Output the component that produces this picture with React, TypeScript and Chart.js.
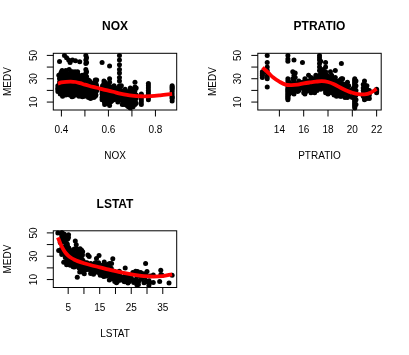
import React, { useEffect, useRef } from "react";
import { Chart, registerables } from "chart.js";
Chart.register(...registerables);

// ---------- DATA ----------
// NOX panel: each entry = [NOX value, MEDV values observed at that NOX]
const noxColumns: [number, number[]][] = [
  [0.385, [22, 24, 21, 19]],
  [0.389, [33, 24, 21.5]],
  [0.392, [44.8, 30, 27, 25]],
  [0.394, [32, 24, 19.5]],
  [0.395, [17, 20, 23, 27, 30]],
  [0.398, [26, 23, 21, 28, 35]],
  [0.4, [20, 23, 26, 31, 29]],
  [0.401, [36, 31, 23, 28]],
  [0.403, [33, 29, 24, 37, 32]],
  [0.404, [25, 30, 19, 22, 32, 34]],
  [0.405, [15, 18, 21, 27, 35]],
  [0.409, [24, 22, 20, 31, 28]],
  [0.41, [33, 25, 35, 29]],
  [0.411, [27, 32, 30, 21]],
  [0.413, [50, 24, 28, 22, 34]],
  [0.415, [20, 23, 33, 36, 27, 18]],
  [0.416, [24, 26, 21, 30]],
  [0.419, [16, 19, 25, 29, 32, 37]],
  [0.422, [48, 30, 26, 22, 35, 19]],
  [0.424, [18, 23, 27, 31, 34]],
  [0.426, [17, 22, 25, 28]],
  [0.428, [20, 24, 26, 21, 30, 19]],
  [0.429, [22, 29, 27, 23]],
  [0.431, [46, 31, 24, 20]],
  [0.433, [38, 27, 33, 24, 21, 18]],
  [0.435, [21, 24, 28, 26, 16]],
  [0.437, [44, 34, 22, 20, 25]],
  [0.439, [21, 19, 24, 30, 33]],
  [0.44, [16, 20, 26, 28, 32, 36]],
  [0.442, [23, 19, 17, 29, 35, 30]],
  [0.445, [21, 23, 25, 18, 31, 14.5]],
  [0.447, [46, 36, 22, 28, 26, 24]],
  [0.448, [22, 20, 17, 25, 30]],
  [0.451, [15, 19, 23, 27, 35]],
  [0.453, [21, 26, 29, 31, 33, 24, 18]],
  [0.456, [17, 20, 26, 32]],
  [0.458, [36, 33, 28, 23, 30, 21]],
  [0.46, [45.5, 22, 25, 19]],
  [0.464, [22, 24, 27, 30, 20]],
  [0.466, [16, 19, 25, 31, 35]],
  [0.469, [21, 34, 36, 28, 23, 30]],
  [0.472, [18, 22, 25, 33, 29]],
  [0.475, [15, 19, 23, 26, 31]],
  [0.478, [44.5, 28, 24, 20]],
  [0.483, [17, 21, 27, 30]],
  [0.488, [19, 22, 26, 30, 33, 25, 17]],
  [0.489, [18, 21, 24, 28, 31, 14.5]],
  [0.493, [16, 20, 23, 26, 29]],
  [0.496, [18, 21, 25, 28]],
  [0.499, [15, 19, 22, 24, 27, 31, 33]],
  [0.504, [50, 46, 43, 38, 35, 30, 28, 24]],
  [0.507, [48, 44, 36, 32, 26, 22, 19]],
  [0.51, [17, 21, 24, 27, 23]],
  [0.515, [14, 18, 21, 25, 29]],
  [0.52, [15, 18, 21, 23, 26, 28]],
  [0.524, [13, 16, 19, 22, 27, 21]],
  [0.527, [14, 17, 20, 24]],
  [0.532, [15, 18, 21, 24]],
  [0.535, [16, 19, 22, 26]],
  [0.538, [14, 17, 19, 21, 24, 20, 18, 15, 23]],
  [0.544, [29, 22, 18, 17, 15]],
  [0.547, [16, 21, 19, 26]],
  [0.55, [29, 24, 20]],
  [0.573, [44, 22, 19, 17, 14, 12]],
  [0.575, [24, 20, 16]],
  [0.581, [15, 20, 23, 26, 28, 18]],
  [0.583, [10, 14, 17, 20]],
  [0.584, [8, 12, 16, 19, 22]],
  [0.585, [12, 16, 20, 24, 27]],
  [0.59, [10, 13, 18, 22]],
  [0.597, [9, 13, 17, 21, 24]],
  [0.6, [9, 12, 19, 25]],
  [0.605, [41, 30, 27, 23, 20, 17, 15, 7]],
  [0.609, [10, 14, 17, 20]],
  [0.614, [11, 15, 19, 23]],
  [0.624, [12, 14, 16, 18, 20, 22, 24]],
  [0.631, [16, 19, 22]],
  [0.64, [10, 13, 17, 20]],
  [0.647, [50, 46, 42, 38, 35, 31, 28, 24, 22, 19, 17, 14]],
  [0.655, [12, 15, 18, 20, 24]],
  [0.659, [8, 11, 14, 17]],
  [0.668, [8, 11, 15, 18]],
  [0.671, [10, 13, 17, 21]],
  [0.679, [7, 9, 12, 14]],
  [0.685, [6, 9, 12, 16, 19]],
  [0.693, [5, 7, 9, 11, 13, 15, 17, 20, 22, 5.6, 7.5]],
  [0.7, [8, 11, 14, 16, 19, 21]],
  [0.705, [6, 10, 13, 18]],
  [0.713, [27, 23, 20, 17, 14, 12, 10, 8]],
  [0.718, [9, 13, 16, 22]],
  [0.74, [8, 10, 12, 14, 16, 17]],
  [0.77, [12, 14, 16, 18, 20, 22, 24, 26]],
  [0.871, [11, 13, 14, 15, 17, 19, 21, 22, 23, 24]],
];
const noxSmoothX = [0.385, 0.4, 0.42, 0.44, 0.46, 0.48, 0.5, 0.52, 0.55, 0.58, 0.6, 0.63, 0.65, 0.7, 0.74, 0.78, 0.82, 0.871];
const noxSmoothY = [25.8, 26.8, 27.4, 27.6, 27.2, 26.2, 24.9, 23.8, 22.3, 20.7, 19.8, 18.3, 17.3, 15.6, 15.0, 15.1, 15.8, 17.0];

// PTRATIO panel
const ptColumns: [number, number[]][] = [
  [12.6, [31, 33, 35, 36, 34]],
  [13.0, [50, 44, 40, 37, 35, 32, 30, 23]],
  [14.7, [50, 47, 45, 28, 26, 24, 22, 20, 18, 16, 14, 12, 30, 25, 21, 19, 17, 15, 13]],
  [14.8, [27, 24, 20, 17, 23]],
  [14.9, [22, 20, 26, 18]],
  [15.1, [30, 25, 21, 36]],
  [15.2, [46, 33, 28, 24, 19, 22, 27, 17]],
  [15.3, [35, 31, 24, 21, 26]],
  [15.5, [23, 19]],
  [15.6, [28, 24, 20, 22]],
  [15.9, [44, 27, 22, 24]],
  [16.0, [18, 21, 25]],
  [16.1, [24, 30, 26, 20, 17]],
  [16.2, [19, 22, 25, 28]],
  [16.4, [33, 28, 23, 20, 27]],
  [16.6, [29, 25, 21, 24, 31, 23, 18]],
  [16.8, [26, 24, 22, 19, 30]],
  [16.9, [18, 21, 24]],
  [17.0, [33, 30, 26, 22]],
  [17.1, [20, 24, 28, 32]],
  [17.3, [50, 48, 46, 43, 40, 37, 33, 30, 27, 24, 22]],
  [17.4, [45, 36, 31, 26, 23, 21, 28]],
  [17.5, [23, 26, 29, 33, 36]],
  [17.6, [30, 27, 25, 22, 38, 34]],
  [17.8, [44, 40, 36, 33, 30, 28, 26, 24, 22, 20, 18]],
  [17.9, [33, 29, 25, 22, 19]],
  [18.0, [26, 23, 21, 17, 30]],
  [18.1, [19, 22, 26, 29]],
  [18.2, [36, 32, 28, 25, 21]],
  [18.3, [33, 24, 20, 18]],
  [18.4, [30, 27, 22, 18]],
  [18.5, [23, 20, 16, 21]],
  [18.6, [37, 31, 25, 20, 17, 23]],
  [18.7, [28, 25, 22, 19, 15]],
  [18.8, [16, 19, 23, 26]],
  [18.9, [27, 24, 20, 17]],
  [19.0, [15, 18, 22, 29]],
  [19.1, [43, 30, 25, 21, 18, 15]],
  [19.2, [30, 26, 23, 20, 17, 19]],
  [19.4, [14, 18, 21, 25]],
  [19.6, [27, 24, 21, 17, 14]],
  [19.7, [24, 20, 18, 15]],
  [20.0, [14, 18, 21]],
  [20.1, [22, 19, 16]],
  [20.2, [30, 28, 26, 24, 22, 20, 18, 16, 14, 12, 10, 8, 6, 5, 7, 9, 11, 13, 15, 17, 19, 21, 23, 25, 27, 29]],
  [20.3, [8, 12, 16, 20, 24, 28]],
  [20.9, [25, 22, 20, 17, 15]],
  [21.0, [28, 25, 22, 20, 18, 16, 14, 12, 19]],
  [21.1, [23, 20, 18, 15]],
  [21.2, [24, 21, 19, 17, 14, 13]],
  [21.4, [13, 16, 20]],
  [22.0, [21, 19, 18, 20]],
];
const ptSmoothX = [12.6, 13, 13.5, 14, 14.5, 15, 15.5, 16, 16.5, 17, 17.5, 18, 18.5, 19, 19.5, 20, 20.5, 21, 21.5, 22];
const ptSmoothY = [39.5, 36, 31, 27.5, 25, 24.6, 25, 26, 26.8, 27.5, 27.9, 27.2, 25.3, 22.5, 20, 18, 16.8, 16.6, 18, 21.3];

// LSTAT panel: [LSTAT, MEDV]
const lstatPoints: [number, number][] = [
  [1.73, 50], [1.98, 34.9], [2.47, 41.7], [2.87, 36], [2.88, 50], [2.94, 33.4], [2.96, 50], [2.97, 47.8], [2.98, 31.5],
  [3.01, 46], [3.11, 44], [3.13, 37.6], [3.16, 50], [3.26, 42], [3.32, 33], [3.53, 46], [3.54, 42.8], [3.56, 37.3],
  [3.57, 43.8], [3.59, 24.8], [3.7, 48.5], [3.76, 45.4], [3.81, 48.8], [3.92, 46.7], [3.95, 44], [4.03, 34.7], [4.08, 29],
  [4.14, 44], [4.16, 33], [4.21, 38.7], [4.32, 30.8], [4.38, 29.1], [4.45, 40], [4.5, 22.8], [4.54, 32], [4.56, 35],
  [4.59, 36.1], [4.61, 31.2], [4.63, 41], [4.67, 23.5], [4.69, 30.5], [4.7, 27.5], [4.73, 39.8], [4.74, 29], [4.81, 35.4],
  [4.82, 37.9], [4.84, 26.6], [4.85, 44.8], [4.86, 33.4], [4.97, 36], [4.98, 24],
  [5.03, 31.1], [5.04, 37.2], [5.08, 46], [5.1, 25], [5.12, 48.5], [5.19, 37], [5.21, 28.7], [5.25, 31.7], [5.29, 28],
  [5.33, 36.2], [5.39, 34.9], [5.49, 24], [5.5, 27], [5.52, 22.8], [5.57, 29], [5.59, 32.7], [5.64, 23.9], [5.68, 22.2],
  [5.7, 28.7], [5.77, 31.6], [5.81, 25], [5.89, 26.6], [5.9, 28.2], [5.98, 22.9], [5.99, 24.5], [6.05, 29.6], [6.07, 24.2],
  [6.12, 25], [6.15, 23], [6.19, 33.2], [6.21, 25], [6.27, 23.6], [6.29, 24.6], [6.36, 23.1], [6.43, 24.7], [6.47, 33.4],
  [6.56, 21], [6.58, 35.2], [6.59, 25.2], [6.62, 34.6], [6.65, 23], [6.68, 32], [6.72, 35.1], [6.73, 22.5], [6.75, 23],
  [6.78, 24.4], [6.86, 23.3], [6.87, 23.1], [6.92, 36], [6.93, 20.8], [7.01, 36.2], [7.12, 27.5], [7.14, 23.2],
  [7.18, 24.4], [7.19, 29.1], [7.2, 24.8], [7.22, 29], [7.26, 43.1], [7.34, 28.4], [7.37, 23.3], [7.39, 24.5],
  [7.43, 24.1], [7.44, 25], [7.51, 22.9], [7.53, 28.2], [7.54, 23.4], [7.56, 39.8], [7.6, 30.1], [7.67, 26.5], [7.7, 24],
  [7.73, 24.7], [7.74, 23.7], [7.79, 36.2], [7.83, 25.3], [7.85, 32.2], [7.88, 11.9], [7.9, 21.6], [8.01, 21.5],
  [8.05, 33], [8.1, 22], [8.16, 22.7], [8.2, 21.9], [8.23, 22], [8.26, 25], [8.43, 23], [8.44, 22.9], [8.47, 19.9],
  [8.51, 23], [8.58, 23.9], [8.61, 30.3], [8.65, 16.5], [8.67, 26.4], [8.77, 21], [8.79, 36.5], [8.81, 33.4],
  [8.88, 22.6], [8.93, 28.4], [9.04, 23.6], [9.08, 20.6], [9.09, 19.8], [9.1, 20.3], [9.14, 21.7], [9.16, 24.3],
  [9.22, 19.6], [9.25, 20.9], [9.28, 35.1], [9.29, 18.7], [9.38, 21.2], [9.42, 27.5], [9.43, 20.5], [9.45, 25],
  [9.47, 25], [9.5, 16.5], [9.51, 24.8], [9.52, 19.6], [9.53, 31], [9.55, 21.2], [9.59, 33.8], [9.62, 19.6],
  [9.64, 19.5], [9.67, 22.4], [9.69, 20.5], [9.71, 26.2], [9.74, 19], [9.8, 19.5], [9.81, 25],
  [10.11, 15], [10.13, 18.6], [10.16, 22.8], [10.19, 20.9], [10.21, 19.3], [10.24, 19.4], [10.26, 18.2], [10.29, 18.8],
  [10.3, 19.3], [10.36, 23.1], [10.4, 18.8], [10.42, 20.3], [10.45, 18.5], [10.5, 22.5], [10.53, 22], [10.56, 24.3],
  [10.58, 21.2], [10.59, 20.6], [10.63, 18.6], [10.74, 23], [10.87, 22.6], [10.88, 20.9], [10.97, 24.4], [11.1, 23],
  [11.12, 21.4], [11.22, 22.2], [11.25, 31], [11.28, 22], [11.32, 21.7], [11.34, 21.4], [11.38, 18.9], [11.41, 20],
  [11.45, 20.6], [11.48, 23], [11.5, 22.6], [11.64, 20], [11.65, 20.5], [11.66, 29.8], [11.69, 20.2], [11.72, 21.6],
  [11.74, 18.7], [11.97, 21.4], [12.01, 21.8], [12.03, 20.8], [12.04, 19.1], [12.12, 15.3], [12.13, 19.6],
  [12.14, 23.8], [12.26, 19.6], [12.27, 19.8], [12.33, 20.1], [12.34, 21.2], [12.4, 20.1], [12.43, 19.6], [12.5, 17.6],
  [12.6, 23.2], [12.64, 19.1], [12.67, 22.4], [12.8, 18.4], [12.86, 22.5], [12.87, 19.6], [12.92, 21.2], [12.93, 20.1],
  [13.0, 21.7], [13.04, 14.5], [13.09, 17.4], [13.11, 21.4], [13.15, 18.7], [13.22, 21.7], [13.27, 19.1], [13.28, 19.6],
  [13.33, 16.2], [13.34, 20.6], [13.35, 20.1], [13.44, 19.3], [13.45, 18.8], [13.51, 23.3], [13.59, 24.5], [13.61, 19.3],
  [13.65, 20.8], [13.83, 19.6], [13.98, 28.1], [13.99, 19.4], [14.0, 21.9], [14.1, 18.8], [14.13, 19.9], [14.15, 20.1],
  [14.19, 19.9], [14.27, 20.8], [14.33, 21.4], [14.36, 23.2], [14.37, 20.3], [14.43, 17.4], [14.44, 20.6], [14.52, 16.1],
  [14.59, 17.1], [14.64, 16.8], [14.65, 17.7], [14.66, 24.4], [14.69, 20.5], [14.7, 17.6], [14.76, 20.1], [14.79, 30.7],
  [14.8, 18.9], [14.81, 21.4], [14.98, 19.6], [15.02, 18.2], [15.03, 18.4], [15.1, 17.5], [15.12, 17.7], [15.17, 13.8],
  [15.37, 20.4], [15.39, 19.1], [15.55, 15.2], [15.69, 18.1], [15.7, 14.2], [15.71, 21.3], [15.76, 21.7], [15.79, 19.4],
  [15.84, 20.2], [15.94, 19.5], [16.03, 22.4], [16.14, 13.1], [16.2, 19.4], [16.21, 17.2], [16.22, 14.2], [16.23, 22.5],
  [16.29, 19.8], [16.3, 19.4], [16.35, 12.7], [16.42, 16.4], [16.44, 25], [16.47, 19.5], [16.51, 19.4], [16.59, 18.4],
  [16.65, 15.2], [16.74, 16.8], [16.9, 21.3], [16.94, 18.4], [17.09, 18.3], [17.1, 18.8], [17.11, 15.1], [17.12, 13.1],
  [17.15, 18.7], [17.16, 19.5], [17.19, 16.2], [17.21, 18.8], [17.27, 21.5], [17.28, 18.5], [17.31, 15.6], [17.44, 21.2],
  [17.58, 18.8], [17.6, 23.1], [17.64, 17.1], [17.73, 21.8], [17.79, 20.4], [17.92, 20.8], [18.03, 14.4], [18.05, 9.6],
  [18.06, 15.2], [18.07, 18.5], [18.13, 14.6], [18.14, 23.7], [18.33, 17.8], [18.34, 14.3], [18.35, 13.1], [18.46, 16.6],
  [18.66, 19.8], [18.68, 15], [18.71, 13.3], [18.72, 15.4], [18.76, 23.7], [18.8, 10.8], [18.85, 15.4], [19.01, 12.7],
  [19.15, 27.9], [19.31, 14.9], [19.37, 12.5], [19.52, 17.1], [19.69, 14.1], [19.77, 8.3], [19.78, 13.5], [19.88, 10.5],
  [19.92, 12.7], [20.08, 16.3], [20.31, 14.4], [20.32, 7.2], [20.34, 9.4], [20.45, 15], [20.62, 8.4], [20.85, 11.7],
  [21.02, 13.6], [21.08, 10.2], [21.14, 11.5], [21.22, 17.2], [21.24, 13.9], [21.32, 13.4], [21.45, 15.6], [21.46, 9.5],
  [21.52, 11], [21.78, 10.2], [22.11, 10.5], [22.6, 12.1], [22.74, 8.4], [22.88, 10.5], [22.98, 8.1], [23.09, 20],
  [23.24, 13.9], [23.27, 13.4], [23.29, 13.4], [23.34, 11.8], [23.6, 11.3], [23.69, 13.1], [23.79, 10.8], [23.97, 7],
  [24.08, 8.3], [24.1, 9.9], [24.16, 14], [24.39, 8.3], [24.56, 12.3], [24.91, 12], [25.41, 9.6], [25.5, 16],
  [25.68, 9.7], [25.79, 7.5], [26.4, 17.2], [26.42, 15.6], [26.45, 8.7], [26.64, 10.4], [26.77, 5.6], [26.82, 13.4],
  [27.0, 17], [27.26, 5.7], [27.38, 8.5], [27.71, 13.2], [27.8, 13.8], [28.0, 16], [28.28, 10.5], [28.32, 10.5],
  [29.0, 15], [29.05, 7.2], [29.29, 11.8], [29.53, 14.6], [29.55, 23.7], [29.68, 8.1], [29.93, 8.8], [30.0, 17],
  [30.59, 5], [30.62, 8.8], [30.63, 8.8], [30.81, 7.2], [31.0, 13], [31.99, 7.4], [32.0, 14], [34.02, 8.4],
  [34.37, 17.9], [34.41, 14.4], [34.77, 13.8], [36.98, 7], [37.97, 13.8],
];
const lstatSmoothX = [1.73, 2.5, 3, 4, 5, 6, 7, 8, 10, 12, 15, 18, 20, 23, 26, 29, 32, 35, 37.97];
const lstatSmoothY = [46, 41, 38, 33.5, 30.5, 28.5, 27, 25.8, 24, 22.5, 20.5, 18.5, 17.3, 15.5, 14, 13, 12.6, 13, 14.5];

// Axis ticks
const medvTicks = [10, 20, 30, 40, 50];
const medvTickLabels = ["10", "", "30", "", "50"];
const noxTicks = [0.4, 0.5, 0.6, 0.7, 0.8];
const noxTickLabels = ["0.4", "", "0.6", "", "0.8"];
const ptTicks = [14, 16, 18, 20, 22];
const ptTickLabels = ["14", "16", "18", "20", "22"];
const lstatTicks = [5, 10, 15, 20, 25, 30, 35];
const lstatTickLabels = ["5", "", "15", "", "25", "", "35"];

// ---------- RENDERING ----------
const W = 409;
const H = 355;
const FONT = '"Liberation Sans", Arial, Helvetica, sans-serif';

type XY = { x: number; y: number };
type PanelSpec = {
  title: string;
  xTitle: string;
  yTitle: string;
  box: [number, number, number, number];
  xRange: [number, number];
  yRange: [number, number];
  xTicks: number[];
  xTickLabels: string[];
  yTicks: number[];
  yTickLabels: string[];
  points: XY[];
  curve: XY[];
};

const fromColumns = (cols: [number, number[]][]): XY[] =>
  cols.flatMap(([x, ys]) => ys.map((y) => ({ x, y })));
const fromPairs = (pairs: [number, number][]): XY[] => pairs.map(([x, y]) => ({ x, y }));
const zipXY = (xs: number[], ys: number[]): XY[] => xs.map((x, i) => ({ x, y: ys[i] }));
const ext = (lo: number, hi: number): [number, number] => {
  const d = (hi - lo) * 0.04;
  return [lo - d, hi + d];
};

const panels: PanelSpec[] = [
  {
    title: "NOX", xTitle: "NOX", yTitle: "MEDV",
    box: [53.3, 53.3, 176.7, 110],
    xRange: ext(0.385, 0.871), yRange: ext(5, 50),
    xTicks: noxTicks, xTickLabels: noxTickLabels,
    yTicks: medvTicks, yTickLabels: medvTickLabels,
    points: fromColumns(noxColumns), curve: zipXY(noxSmoothX, noxSmoothY),
  },
  {
    title: "PTRATIO", xTitle: "PTRATIO", yTitle: "MEDV",
    box: [257.8, 53.3, 381.2, 110],
    xRange: ext(12.6, 22.0), yRange: ext(5, 50),
    xTicks: ptTicks, xTickLabels: ptTickLabels,
    yTicks: medvTicks, yTickLabels: medvTickLabels,
    points: fromColumns(ptColumns), curve: zipXY(ptSmoothX, ptSmoothY),
  },
  {
    title: "LSTAT", xTitle: "LSTAT", yTitle: "MEDV",
    box: [53.3, 230.8, 176.7, 287.5],
    xRange: ext(1.73, 37.97), yRange: ext(5, 50),
    xTicks: lstatTicks, xTickLabels: lstatTickLabels,
    yTicks: medvTicks, yTickLabels: medvTickLabels,
    points: fromPairs(lstatPoints), curve: zipXY(lstatSmoothX, lstatSmoothY),
  },
];

function rAxesPlugin(spec: PanelSpec) {
  return {
    id: "rAxes",
    afterDraw(chart: any) {
      const { ctx, chartArea: a, scales } = chart;
      const sx = scales.x;
      const sy = scales.y;
      ctx.save();
      ctx.strokeStyle = "#000";
      ctx.lineWidth = 1;
      ctx.strokeRect(a.left, a.top, a.right - a.left, a.bottom - a.top);
      const tl = 6.5;
      ctx.beginPath();
      spec.xTicks.forEach((v) => {
        const p = sx.getPixelForValue(v);
        ctx.moveTo(p, a.bottom);
        ctx.lineTo(p, a.bottom + tl);
      });
      spec.yTicks.forEach((v) => {
        const p = sy.getPixelForValue(v);
        ctx.moveTo(a.left, p);
        ctx.lineTo(a.left - tl, p);
      });
      ctx.stroke();

      ctx.fillStyle = "#000";
      ctx.textAlign = "center";
      ctx.textBaseline = "middle";
      ctx.font = `10px ${FONT}`;
      spec.xTicks.forEach((v, i) => {
        const lab = spec.xTickLabels[i];
        if (lab) ctx.fillText(lab, sx.getPixelForValue(v), a.bottom + 20.5);
      });
      spec.yTicks.forEach((v, i) => {
        const lab = spec.yTickLabels[i];
        if (!lab) return;
        ctx.save();
        ctx.translate(a.left - 19.5, sy.getPixelForValue(v));
        ctx.rotate(-Math.PI / 2);
        ctx.fillText(lab, 0, 0);
        ctx.restore();
      });
      const cx = (a.left + a.right) / 2;
      const cy = (a.top + a.bottom) / 2;
      ctx.fillText(spec.xTitle, cx, a.bottom + 46.5);
      ctx.save();
      ctx.translate(a.left - 45, cy);
      ctx.rotate(-Math.PI / 2);
      ctx.fillText(spec.yTitle, 0, 0);
      ctx.restore();
      ctx.font = `bold 12px ${FONT}`;
      ctx.fillText(spec.title, cx, a.top - 26.6);
      ctx.restore();
    },
  };
}

function Panel({ spec }: { spec: PanelSpec }) {
  const ref = useRef<HTMLCanvasElement | null>(null);
  useEffect(() => {
    if (!ref.current) return;
    const [l, t, r, b] = spec.box;
    const chart = new Chart(ref.current, {
      type: "scatter",
      data: {
        datasets: [
          {
            data: spec.curve,
            showLine: true,
            borderColor: "#ff0000",
            borderWidth: 3.8,
            pointRadius: 0,
            tension: 0.35,
            fill: false,
            order: 0,
            clip: false,
          } as any,
          {
            data: spec.points,
            backgroundColor: "#000000",
            borderColor: "#000000",
            borderWidth: 0,
            pointRadius: 2.5,
            order: 1,
            clip: false,
          } as any,
        ],
      },
      options: {
        animation: false,
        responsive: false,
        devicePixelRatio: 1,
        events: [],
        layout: { padding: { left: l, top: t, right: W - r, bottom: H - b } },
        scales: {
          x: { type: "linear", display: false, min: spec.xRange[0], max: spec.xRange[1] },
          y: { type: "linear", display: false, min: spec.yRange[0], max: spec.yRange[1] },
        },
        plugins: { legend: { display: false }, tooltip: { enabled: false }, title: { display: false } },
      },
      plugins: [rAxesPlugin(spec)],
    });
    return () => chart.destroy();
  }, [spec]);
  return (
    <canvas
      ref={ref}
      width={W}
      height={H}
      style={{ position: "absolute", left: 0, top: 0, width: W, height: H }}
    />
  );
}

export default function App() {
  return (
    <div style={{ position: "fixed", left: 0, top: 0, width: W, height: H, background: "#ffffff", overflow: "hidden" }}>
      {panels.map((p) => (
        <Panel key={p.title} spec={p} />
      ))}
    </div>
  );
}
